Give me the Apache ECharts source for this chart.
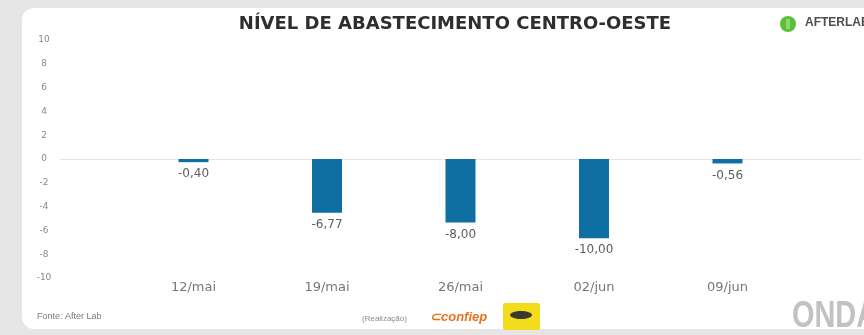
<!DOCTYPE html>
<html>
<head>
<meta charset="utf-8">
<style>
  html, body { margin: 0; padding: 0; background: #e6e6e6; }
  #chart { width: 864px; height: 335px; }
</style>
<script src="https://cdn.jsdelivr.net/npm/echarts@6/dist/echarts.min.js"></script>
</head>
<body>
<div id="chart"></div>
<script>
// Weekly supply level, Centro-Oeste region
const categories = ['12/mai', '19/mai', '26/mai', '02/jun', '09/jun'];
const supplyLevel = [-0.40, -6.77, -8.00, -10.00, -0.56];
const yTicks = [-10, -8, -6, -4, -2, 0, 2, 4, 6, 8, 10];

const fmt = v => v.toFixed(2).replace('.', ',');
const SANS = '"DejaVu Sans", "Liberation Sans", Arial, sans-serif';

const chart = echarts.init(document.getElementById('chart'), null, { renderer: 'canvas' });

chart.setOption({
  backgroundColor: 'transparent',
  animation: false,
  graphic: [
    // white card
    {
      type: 'rect', z: -10,
      shape: { x: 22, y: 8, width: 900, height: 321, r: 12 },
      style: { fill: '#ffffff' }
    },
    // brand mark, top right
    {
      type: 'circle', z: 5,
      shape: { cx: 788, cy: 24, r: 8 },
      style: { fill: '#5cbf3a' }
    },
    {
      type: 'rect', z: 6,
      shape: { x: 786, y: 19, width: 4, height: 10 },
      style: { fill: '#8fd66e' }
    },
    {
      type: 'text', z: 5, left: 805, top: 17,
      style: { text: 'AFTERLAB', font: 'bold 12px "Liberation Sans", Arial, sans-serif', fill: '#4d4d4d' }
    },
    // source note
    {
      type: 'text', z: 5, left: 37, top: 312,
      style: { text: 'Fonte: After Lab', font: '9px "Liberation Sans", Arial, sans-serif', fill: '#7a7a7a' }
    },
    // sponsors strip
    {
      type: 'text', z: 5, left: 362, top: 315,
      style: { text: '(Realização)', font: '8px "Liberation Sans", Arial, sans-serif', fill: '#8a8a8a' }
    },
    {
      type: 'text', z: 5, left: 430, top: 311,
      style: { text: '⊂confiep', font: 'bold italic 13px "Liberation Sans", Arial, sans-serif', fill: '#e8731e' }
    },
    {
      type: 'rect', z: 5,
      shape: { x: 503, y: 303, width: 37, height: 27, r: 2 },
      style: { fill: '#f2dc1c' }
    },
    {
      type: 'ellipse', z: 6,
      shape: { cx: 521, cy: 315, rx: 11, ry: 4 },
      style: { fill: '#3a3a2a' }
    },
    // watermark, bottom right
    {
      type: 'text', z: 5, x: 792, y: 298, scaleX: 0.78,
      style: { text: 'ONDA', font: 'bold 37px "Liberation Sans", Arial, sans-serif', fill: '#c2c2c2' }
    }
  ],
  title: {
    text: 'NÍVEL DE ABASTECIMENTO CENTRO-OESTE',
    left: 450,
    textAlign: 'center',
    top: 10,
    textStyle: {
      fontFamily: SANS,
      fontWeight: 'bold',
      fontSize: 18,
      color: '#2e2e2e'
    }
  },
  grid: { left: 60, right: 0, top: 40, bottom: 57 },
  xAxis: {
    type: 'value',
    min: -1,
    max: 5,
    interval: 1,
    axisLine: { show: false },
    axisTick: { show: false },
    splitLine: { show: false },
    axisLabel: {
      margin: 3,
      fontFamily: SANS,
      fontSize: 13,
      color: '#777777',
      formatter: v => categories[v] || ''
    }
  },
  yAxis: [
    {
      type: 'value',
      min: yTicks[0],
      max: yTicks[yTicks.length - 1],
      interval: 2,
      axisLine: { show: false },
      axisTick: { show: false },
      splitLine: { show: false },
      axisLabel: {
        margin: 16,
        align: 'center',
        fontFamily: SANS,
        fontSize: 9,
        color: '#8a8a8a'
      }
    },
    {
      // scale the columns are plotted on
      type: 'value',
      min: -15,
      max: 15,
      show: false,
      splitLine: { show: false }
    }
  ],
  series: [
    {
      type: 'bar',
      yAxisIndex: 1,
      barWidth: 30,
      data: supplyLevel.map((v, i) => [i, v]),
      itemStyle: { color: '#0f6ea2' },
      label: {
        show: true,
        position: 'bottom',
        distance: 6,
        fontFamily: SANS,
        fontSize: 12,
        color: '#5e5e5e',
        formatter: p => fmt(p.value[1])
      },
      markLine: {
        silent: true,
        symbol: 'none',
        label: { show: false },
        lineStyle: { color: '#e6e6e0', width: 1, type: 'solid' },
        data: [{ yAxis: 0 }],
        z: 1
      }
    }
  ]
});
</script>
</body>
</html>
